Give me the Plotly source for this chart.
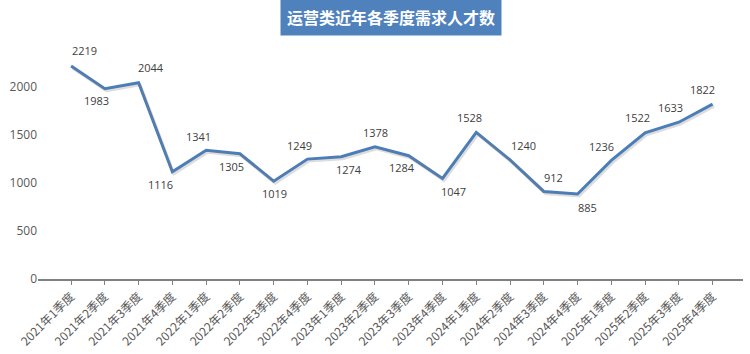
import plotly.graph_objects as go

categories = ["2021年1季度", "2021年2季度", "2021年3季度", "2021年4季度",
              "2022年1季度", "2022年2季度", "2022年3季度", "2022年4季度",
              "2023年1季度", "2023年2季度", "2023年3季度", "2023年4季度",
              "2024年1季度", "2024年2季度", "2024年3季度", "2024年4季度",
              "2025年1季度", "2025年2季度", "2025年3季度", "2025年4季度"]
values = [2219, 1983, 2044, 1116, 1341, 1305, 1019, 1249, 1274, 1378,
          1284, 1047, 1528, 1240, 912, 885, 1236, 1522, 1633, 1822]
y_ticks = [0, 500, 1000, 1500, 2000]

# label offsets in pixels (dx, dy; dy positive = down)
label_offsets = [(13, -15), (-8, 12), (12, -15), (-12, 13), (-8, -14),
                 (-8, 13), (1, 12), (-8, -14), (8, 13), (1, -14),
                 (-7, 12), (11, 13), (-7, -15), (13, -14), (10, -14),
                 (10, 13), (-10, -14), (-8, -15), (-8, -15), (-10, -15)]

xs = list(range(len(categories)))

W, H = 750, 354
ml, mr, mt, mb = 38, 7, 39, 75
xr = [-0.98, 19.9]
yr = [0, 2500]
ux = (xr[1] - xr[0]) / (W - ml - mr)
uy = (yr[1] - yr[0]) / (H - mt - mb)
sx, sy = 1.5, 2.0  # shadow shift in px

fig = go.Figure()
# soft shadow
fig.add_trace(go.Scatter(x=xs, y=values, mode="lines", xaxis="x2", yaxis="y2",
                         line=dict(color="rgba(120,120,120,0.25)", width=3),
                         hoverinfo="skip", showlegend=False))
fig.add_trace(go.Scatter(x=xs, y=values, mode="lines",
                         line=dict(color="#4A7EBB", width=3),
                         showlegend=False))

annotations = []
for i, v in enumerate(values):
    dx, dy = label_offsets[i]
    annotations.append(dict(x=i, y=v, xref="x", yref="y", text=str(v),
                            showarrow=False, xshift=dx, yshift=-dy,
                            font=dict(family="Open Sans, Noto Sans", size=11, color="#404040")))
annotations.append(dict(x=0.5007, y=1.092, xref="paper", yref="paper",
                        text="<b>运营类近年各季度需求人才数</b>", showarrow=False,
                        xanchor="center", yanchor="middle",
                        bgcolor="#4F81BD", borderpad=6,
                        font=dict(family="Noto Sans CJK SC", size=16, color="white")))

fig.update_layout(
    width=W, height=H,
    margin=dict(l=ml, r=mr, t=mt, b=mb),
    paper_bgcolor="white", plot_bgcolor="white",
    annotations=annotations,
    xaxis=dict(range=xr, tickmode="array", tickvals=xs, ticktext=categories,
               tickangle=-45, showgrid=False, zeroline=False, automargin=False,
               showline=True, linecolor="#808080", linewidth=1.5,
               ticks="outside", ticklen=4, tickcolor="#808080",
               tickfont=dict(family="Noto Sans CJK SC", size=12, color="#595959")),
    yaxis=dict(range=yr, tickmode="array", tickvals=y_ticks, automargin=False,
               showgrid=False, zeroline=False, showline=False,
               tickfont=dict(family="Open Sans, Noto Sans", size=12, color="#595959")),
    xaxis2=dict(range=[xr[0] - sx * ux, xr[1] - sx * ux], visible=False,
                overlaying="x"),
    yaxis2=dict(range=[yr[0] + sy * uy, yr[1] + sy * uy], visible=False,
                overlaying="y", anchor="x2"),
)
fig.write_html("out.html")
